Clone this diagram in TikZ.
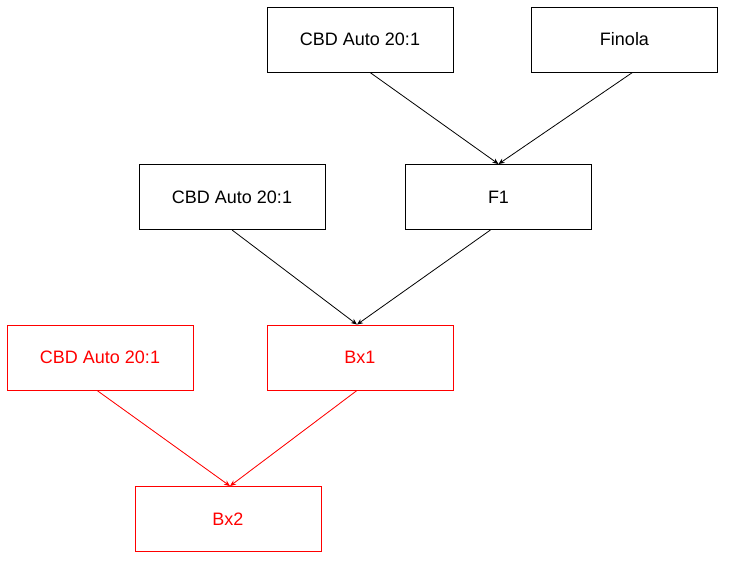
\documentclass[tikz,border=0pt]{standalone}
\usepackage{fontspec}
\setmainfont{Liberation Sans}
\usetikzlibrary{arrows.meta}

\begin{document}
\begin{tikzpicture}[
  x=1pt,y=-1pt,
  box/.style={draw,minimum width=186pt,minimum height=65pt,inner sep=0pt,font=\fontsize{18}{21}\selectfont,line width=0.9pt},
  redbox/.style={box,draw=red,text=red},
  arr/.style={-{Stealth[length=6pt,width=5pt]},line width=0.8pt},
  redarr/.style={arr,draw=red,fill=red}
]
\useasboundingbox (0,0) rectangle (748,580);
\node[box] (cbdtop) at (360,39.5) {CBD Auto 20:1};
\node[box] (finola) at (624.5,39.5) {Finola};
\node[box] (cbdmid) at (232,197) {CBD Auto 20:1};
\node[box] (f1) at (498.5,197) {F1};
\node[redbox] (cbdred) at (100,357.5) {CBD Auto 20:1};
\node[redbox] (bx1) at (360,357.5) {Bx1};
\node[redbox] (bx2) at (228,519) {Bx2};
\draw[arr] ([xshift=10pt]cbdtop.south)--(f1.north);
\draw[arr] ([xshift=8pt]finola.south)--(f1.north);
\draw[arr] (cbdmid.south)--([xshift=-3pt]bx1.north);
\draw[arr] ([xshift=-8pt]f1.south)--([xshift=-3pt]bx1.north);
\draw[redarr] ([xshift=-3pt]cbdred.south)--([xshift=2pt]bx2.north);
\draw[redarr] ([xshift=-3pt]bx1.south)--([xshift=2pt]bx2.north);
\end{tikzpicture}
\end{document}
